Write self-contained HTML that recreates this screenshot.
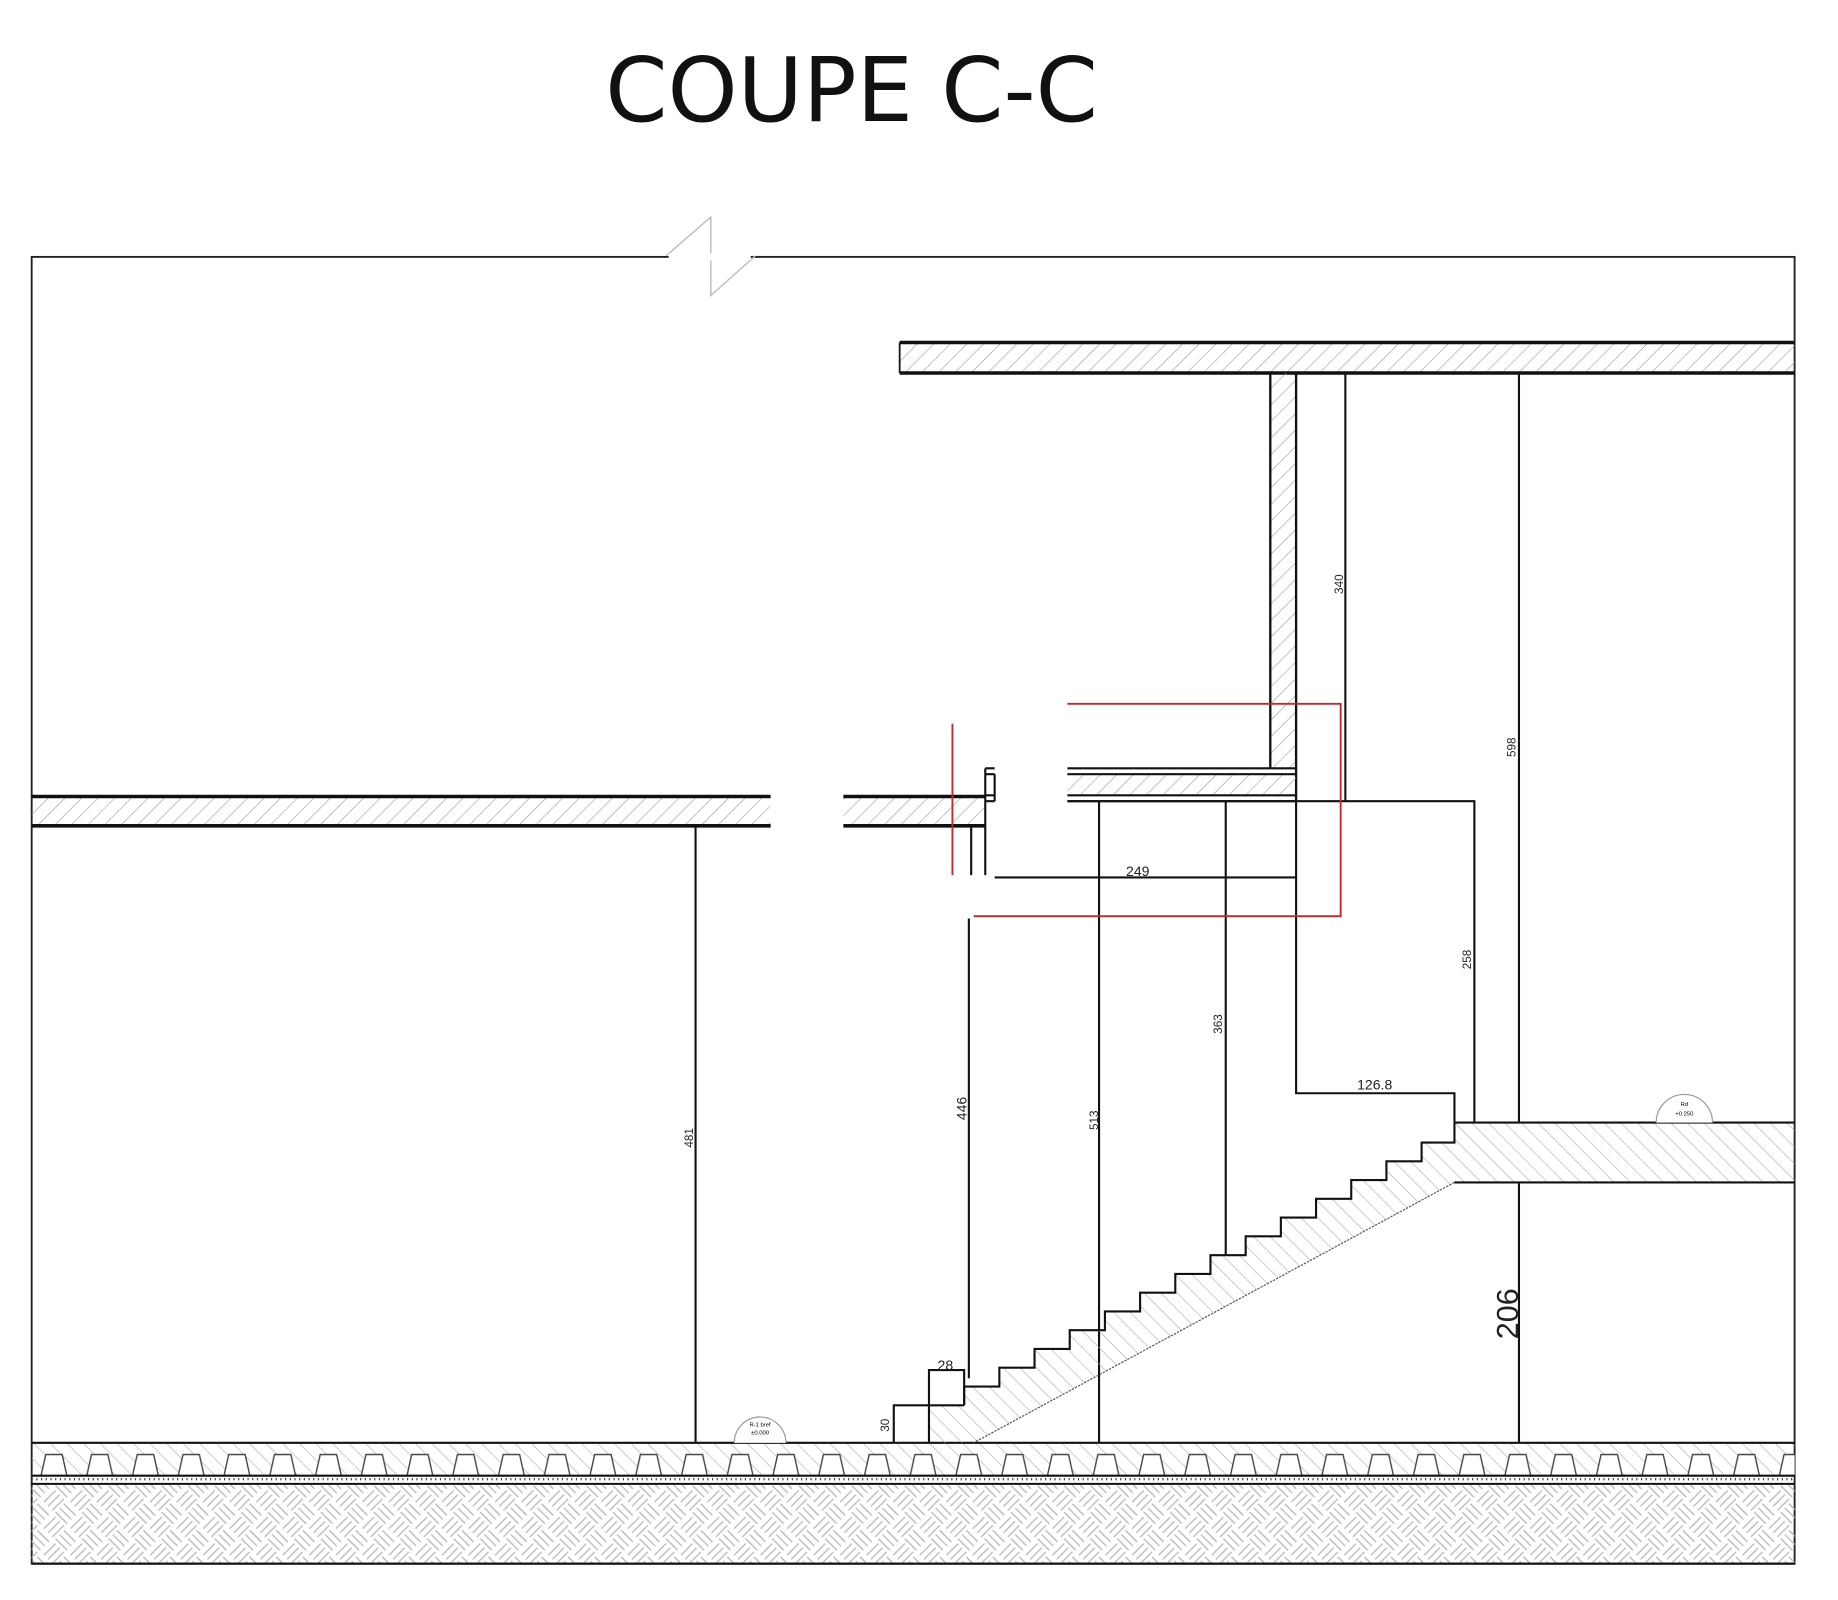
<!DOCTYPE html>
<html><head><meta charset="utf-8"><style>html,body{margin:0;padding:0;background:#fff}svg{display:block}</style></head>
<body>
<svg width="1838" height="1600" viewBox="0 0 1567 1364" preserveAspectRatio="none" xmlns="http://www.w3.org/2000/svg">
<defs>
<pattern id="h" width="10" height="10" patternUnits="userSpaceOnUse" patternTransform="rotate(45)">
<line x1="0" y1="0" x2="0" y2="10" stroke="#999" stroke-width="1"/></pattern>
<pattern id="h2" width="10" height="10" patternUnits="userSpaceOnUse" patternTransform="rotate(-45)">
<line x1="0" y1="0" x2="0" y2="10" stroke="#aaa" stroke-width="1"/></pattern>
<pattern id="earth" width="32" height="32" patternUnits="userSpaceOnUse" patternTransform="rotate(45)">
<g stroke="#bdbdbd" stroke-width="1.2">
<line x1="4" y1="1" x2="4" y2="15"/><line x1="9" y1="1" x2="9" y2="15"/><line x1="14" y1="1" x2="14" y2="15"/>
<line x1="17" y1="4" x2="31" y2="4"/><line x1="17" y1="9" x2="31" y2="9"/><line x1="17" y1="14" x2="31" y2="14"/>
<line x1="1" y1="20" x2="15" y2="20"/><line x1="1" y1="25" x2="15" y2="25"/><line x1="1" y1="30" x2="15" y2="30"/>
<line x1="20" y1="17" x2="20" y2="31"/><line x1="25" y1="17" x2="25" y2="31"/><line x1="30" y1="17" x2="30" y2="31"/>
</g></pattern>
<pattern id="grav" width="39" height="32" patternUnits="userSpaceOnUse" x="27" y="1230">
<path d="M8,28 L12,10 L26,10 L30,28" fill="#fff" stroke="#444" stroke-width="1.2"/>
</pattern>
</defs>
<text x="726" y="103" font-family="DejaVu Sans, Liberation Sans, sans-serif" font-size="76" text-anchor="middle" fill="#111">COUPE C-C</text>
<rect x="27" y="219" width="1503" height="1114" fill="none" stroke="#222" stroke-width="1.6"/>
<path d="M568,218 L606,185 L606,252 L644,218" fill="none" stroke="#bbb" stroke-width="1.2"/>
<rect x="570" y="216" width="70" height="6" fill="#fff"/>
<rect x="767" y="292" width="763" height="26" fill="url(#h)"/>
<path d="M767,292 H1530 M767,318 H1530" stroke="#111" stroke-width="3"/>
<path d="M767,292 V318" stroke="#111" stroke-width="1.5"/>
<rect x="1083" y="318" width="22" height="337" fill="url(#h)"/>
<path d="M1083,318 V655 M1105,318 V683" stroke="#111" stroke-width="2"/>
<rect x="27" y="679" width="630" height="25" fill="url(#h)"/>
<rect x="719" y="679" width="121" height="25" fill="url(#h)"/>
<path d="M27,679 H657 M27,704 H657 M719,679 H840 M719,704 H840" stroke="#111" stroke-width="3"/>
<rect x="910" y="660" width="195" height="19" fill="url(#h)"/>
<path d="M910,655 H1105 M910,660 H1105 M910,678 H1105 M910,683 H1105 M840,655 H848 M840,660 H848 M840,678 H848 M840,683 H848" stroke="#111" stroke-width="1.8"/>
<path d="M840,655 V746 M828,704 V746 M848,660 V683" stroke="#111" stroke-width="1.8"/>
<g stroke="#111" stroke-width="1.8" fill="none">
<path d="M1147,318 V683"/>
<path d="M1295,318 V957 M1295,1008 V1230"/>
<path d="M910,683 H1257 V957"/>
<path d="M593,704 V1230"/>
<path d="M826,1175 V783"/>
<path d="M937,683 V1230"/>
<path d="M1045,683 V1070"/>
<path d="M1105,683 V932 H1240 V957"/>
<path d="M848,748 H1105"/>
<path d="M27,1230 H1530"/>
</g>
<g stroke="#c8262b" stroke-width="1.6" fill="none">
<path d="M812,617 V746"/>
<path d="M910,600 H1143 V781 H830"/>
</g>
<rect x="1240" y="957" width="290" height="51" fill="url(#h2)"/>
<path d="M1240,957 H1530 M1240,1008 H1530" stroke="#111" stroke-width="1.8"/>
<path d="M822,1182 H852 V1166 H882 V1150 H912 V1134 H942 V1118 H972 V1102 H1002 V1086 H1032 V1070 H1062 V1054 H1092 V1038 H1122 V1022 H1152 V1006 H1182 V990 H1212 V974 H1240 V957 L1240,1008 L830,1230 L792,1230 L792,1198 L822,1198 Z" fill="url(#h2)" stroke="none"/>
<path d="M822,1198 V1182 H852 V1166 H882 V1150 H912 V1134 H942 V1118 H972 V1102 H1002 V1086 H1032 V1070 H1062 V1054 H1092 V1038 H1122 V1022 H1152 V1006 H1182 V990 H1212 V974 H1240 V957" fill="none" stroke="#111" stroke-width="1.8"/>
<path d="M1240,1008 L830,1230" stroke="#555" stroke-width="1" stroke-dasharray="2,1"/>
<path d="M762,1230 V1198 H822 M792,1230 V1168 H822 V1198" fill="none" stroke="#111" stroke-width="1.8"/>
<rect x="27" y="1231" width="1503" height="27" fill="url(#h2)"/>
<rect x="27" y="1231" width="1503" height="27" fill="url(#grav)"/>
<path d="M27,1258 H1530 M27,1265 H1530" stroke="#111" stroke-width="1.8"/>
<path d="M27,1261 H1530" stroke="#444" stroke-width="2" stroke-dasharray="1,3"/>
<rect x="27" y="1266" width="1503" height="66" fill="url(#earth)"/>
<path d="M27,1333 H1530" stroke="#111" stroke-width="1.8"/>
<path d="M626,1230 A22,22 0 0 1 670,1230" fill="#fff" stroke="#999" stroke-width="1"/>
<text x="648" y="1216" font-size="5" text-anchor="middle" font-family="Liberation Sans, sans-serif">R-1 bref</text>
<text x="648" y="1223" font-size="5" text-anchor="middle" font-family="Liberation Sans, sans-serif">±0.000</text>
<path d="M1412,957 A24,24 0 0 1 1460,957" fill="#fff" stroke="#999" stroke-width="1"/>
<text x="1436" y="943" font-size="5" text-anchor="middle" font-family="Liberation Sans, sans-serif">Rd</text>
<text x="1436" y="951" font-size="5" text-anchor="middle" font-family="Liberation Sans, sans-serif">+0.250</text>
<g font-family="Liberation Sans, sans-serif" font-size="12" fill="#222">
<text x="970" y="747" text-anchor="middle">249</text>
<text x="1172" y="929" text-anchor="middle">126.8</text>
<text x="806" y="1168" text-anchor="middle">28</text>
<text transform="translate(758,1215) rotate(-90)" text-anchor="middle" font-size="10">30</text>
<text transform="translate(591,970) rotate(-90)" text-anchor="middle" font-size="10">481</text>
<text transform="translate(824,945) rotate(-90)" text-anchor="middle">446</text>
<text transform="translate(936,955) rotate(-90)" text-anchor="middle" font-size="10">513</text>
<text transform="translate(1042,873) rotate(-90)" text-anchor="middle" font-size="10">363</text>
<text transform="translate(1145,498) rotate(-90)" text-anchor="middle" font-size="10">340</text>
<text transform="translate(1254,818) rotate(-90)" text-anchor="middle" font-size="10">258</text>
<text transform="translate(1292,637) rotate(-90)" text-anchor="middle" font-size="10">598</text>
<text transform="translate(1294,1120) rotate(-90)" text-anchor="middle" font-size="26">206</text>
</g>
</svg>
</body></html>
